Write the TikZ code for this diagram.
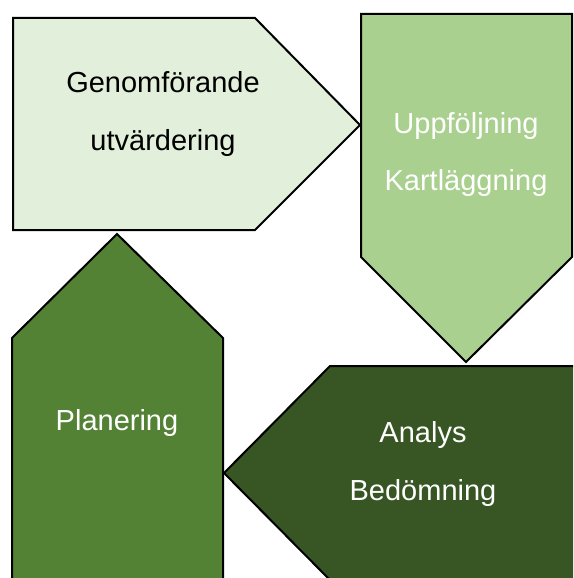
\documentclass[tikz,border=0pt]{standalone}
\usepackage{fontspec}
\setmainfont{Liberation Sans}
\usepackage{tikz}
\definecolor{genomfill}{HTML}{E2EFDA}
\definecolor{uppfill}{HTML}{A9D08E}
\definecolor{planfill}{HTML}{548235}
\definecolor{analysfill}{HTML}{375623}
\begin{document}
\begin{tikzpicture}[x=1pt,y=-1pt,
	pil/.style={draw=black,line width=2pt,line join=miter},
	etikett/.style={font=\fontsize{29}{58}\selectfont,align=center,inner sep=0pt}]
			\useasboundingbox (0,0) rectangle (573,578);
			\clip (0,0) rectangle (573,578);
			\fill [white] (0,0) rectangle (573,578);
			\draw [pil,fill=genomfill] (13,18) -- (255,18) -- (360,125) -- (255,230) -- (13,230) -- cycle;
			\draw [pil,fill=uppfill] (361,14) -- (572,14) -- (572,257) -- (466,362) -- (361,257) -- cycle;
			\draw [pil,fill=planfill] (117,234) -- (223,338) -- (223,600) -- (12,600) -- (12,338) -- cycle;
			\draw [pil,fill=analysfill] (330,366) -- (600,366) -- (600,580) -- (330,580) -- (224,473) -- cycle;
			\node [etikett,text=black] (genom) at (163,114) {Genomförande\\utvärdering};
			\node [etikett,text=white] (uppf) at (466,154.5) {Uppföljning\\Kartläggning};
			\node [etikett,text=white,anchor=base] (plan) at (117,430) {Planering};
			\node [etikett,text=white] (analys) at (423,463.5) {Analys\\Bedömning};
			\end{tikzpicture}
\end{document}
